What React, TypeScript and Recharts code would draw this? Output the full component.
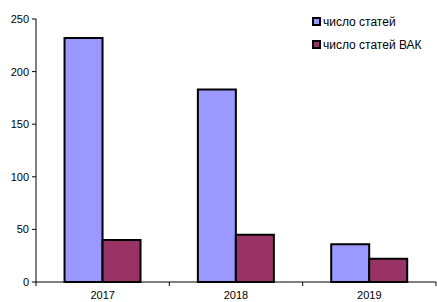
import { BarChart, Bar, XAxis, YAxis } from 'recharts';

const years = ['2017', '2018', '2019'];
const articles = [232, 183, 36];
const vakArticles = [40, 45, 22];
const yTicks = [0, 50, 100, 150, 200, 250];

const seriesNames = ['число статей', 'число статей ВАК'];
const seriesColors = ['#9999FF', '#993366'];

const data = years.map((year, i) => ({
  year,
  articles: articles[i],
  vak: vakArticles[i],
}));

document.body.style.margin = '0';

const font = 'Liberation Sans, Arial, sans-serif';

// labels at centre, tick marks on category boundaries like Excel
function YearTick(props: any) {
  const { x, y, payload, index } = props;
  const half = payload && payload.offset ? payload.offset : 400 / 6;
  return (
    <g>
      <line x1={x - half} y1={y - 8} x2={x - half} y2={y - 4} stroke="#000" />
      {index === years.length - 1 && (
        <line x1={x + half} y1={y - 8} x2={x + half} y2={y - 4} stroke="#000" />
      )}
      <text x={x} y={y + 9} textAnchor="middle" fontSize={11} fontFamily={font} fill="#000">
        {payload.value}
      </text>
    </g>
  );
}

function LegendBox() {
  return (
    <div style={{ position: 'absolute', left: 312, top: 10, fontFamily: font, fontSize: 12, color: '#000' }}>
      {seriesNames.map((name, i) => (
        <div key={name} style={{ display: 'flex', alignItems: 'center', height: 23 }}>
          <span
            style={{
              display: 'inline-block',
              width: 5,
              height: 5,
              background: seriesColors[i],
              border: '2px solid #000',
              marginRight: 2,
            }}
          />
          {name}
        </div>
      ))}
    </div>
  );
}

export default function App() {
  return (
    <div style={{ position: 'relative', width: 437, height: 302, background: '#fff' }}>
      <BarChart
        width={437}
        height={302}
        data={data}
        margin={{ top: 19, right: 1, bottom: 0, left: 0 }}
        barCategoryGap="21.4%"
        barGap={0}
      >
        <XAxis
          dataKey="year"
          height={20}
          axisLine={{ stroke: '#000' }}
          tickLine={false}
          tick={<YearTick />}
          interval={0}
        />
        <YAxis
          domain={[0, 250]}
          ticks={yTicks}
          width={36}
          axisLine={{ stroke: '#000' }}
          tickLine={{ stroke: '#000' }}
          tickSize={4}
          tick={{ fontSize: 11, fontFamily: font, fill: '#000' }}
          tickMargin={3}
        />
        <Bar dataKey="articles" name={seriesNames[0]} fill={seriesColors[0]} stroke="#000" strokeWidth={2} isAnimationActive={false} />
        <Bar dataKey="vak" name={seriesNames[1]} fill={seriesColors[1]} stroke="#000" strokeWidth={2} isAnimationActive={false} />
      </BarChart>
      <LegendBox />
    </div>
  );
}
